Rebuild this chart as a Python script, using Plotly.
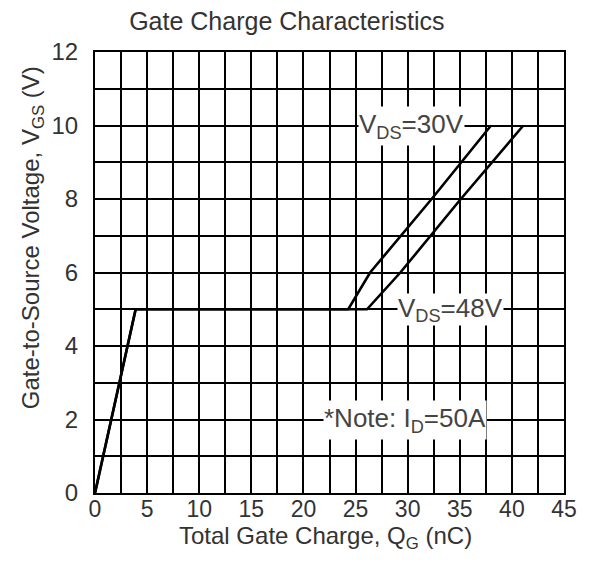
import plotly.graph_objects as go

# Data
qg_30 = [0, 3.9, 24.3, 26.4, 32.3, 38.0]
vgs_30 = [0, 5, 5, 6, 8, 10]
qg_48 = [0, 3.9, 26.1, 29.3, 35.1, 41.1]
vgs_48 = [0, 5, 5, 6, 8, 10]

x_ticks = [0, 5, 10, 15, 20, 25, 30, 35, 40, 45]
y_ticks = [0, 2, 4, 6, 8, 10, 12]

labels = ["V<sub>DS</sub>=30V", "V<sub>DS</sub>=48V", "*Note: I<sub>D</sub>=50A"]
label_x = [30.4, 34.1, 29.7]
label_y = [10, 5, 2]
label_h = [38, 31, 38]

FONT = "Liberation Sans, Arial, sans-serif"
TXT = "#333333"

fig = go.Figure()
fig.add_trace(go.Scatter(x=qg_30, y=vgs_30, mode="lines",
                         line=dict(color="black", width=2.6), name="VDS=30V"))
fig.add_trace(go.Scatter(x=qg_48, y=vgs_48, mode="lines",
                         line=dict(color="black", width=2.6), name="VDS=48V"))

for t, x, y, h in zip(labels, label_x, label_y, label_h):
    fig.add_annotation(x=x, y=y, xref="x", yref="y", text=t, showarrow=False,
                       bgcolor="white", borderpad=0, height=h,
                       font=dict(family=FONT, size=26, color="#444444"))

# axis titles placed as text to match reference positions
fig.add_annotation(xref="paper", yref="paper", x=-0.134, y=0.578,
                   text="Gate-to-Source Voltage, V<sub>GS</sub> (V)",
                   textangle=-90, showarrow=False, xanchor="center", yanchor="middle",
                   font=dict(family=FONT, size=24, color=TXT))
fig.add_annotation(xref="paper", yref="paper", x=0.4915, y=-0.0998,
                   text="Total Gate Charge, Q<sub>G</sub> (nC)",
                   showarrow=False, xanchor="center", yanchor="middle",
                   font=dict(family=FONT, size=24, color=TXT))

# page body adds an 8px offset, so the figure is 8px smaller than the window
fig.update_layout(
    width=581, height=563,
    margin=dict(l=87, r=22, t=44, b=78),
    plot_bgcolor="white", paper_bgcolor="white",
    showlegend=False,
    font=dict(family=FONT, color=TXT),
    title=dict(text="Gate Charge Characteristics", x=0.48, xanchor="center",
               y=0.977, yanchor="middle", yref="container",
               font=dict(family=FONT, size=25, color=TXT)),
)

fig.update_xaxes(
    range=[0, 45], tickvals=x_ticks, showgrid=True, gridcolor="black", gridwidth=1.5,
    minor=dict(dtick=2.5, tick0=0, showgrid=True, gridcolor="black", gridwidth=1.5),
    showline=True, linecolor="black", linewidth=2, mirror=True, zeroline=False,
    ticks="", tickfont=dict(family=FONT, size=23, color=TXT), ticklabelstandoff=-6,
)
fig.update_yaxes(
    range=[0, 12], tickvals=y_ticks, showgrid=True, gridcolor="black", gridwidth=1.5,
    minor=dict(dtick=1, tick0=0, showgrid=True, gridcolor="black", gridwidth=1.5),
    showline=True, linecolor="black", linewidth=2, mirror=True, zeroline=False,
    ticks="", tickfont=dict(family=FONT, size=24, color=TXT), ticklabelstandoff=10,
)

fig.write_html("out.html")
